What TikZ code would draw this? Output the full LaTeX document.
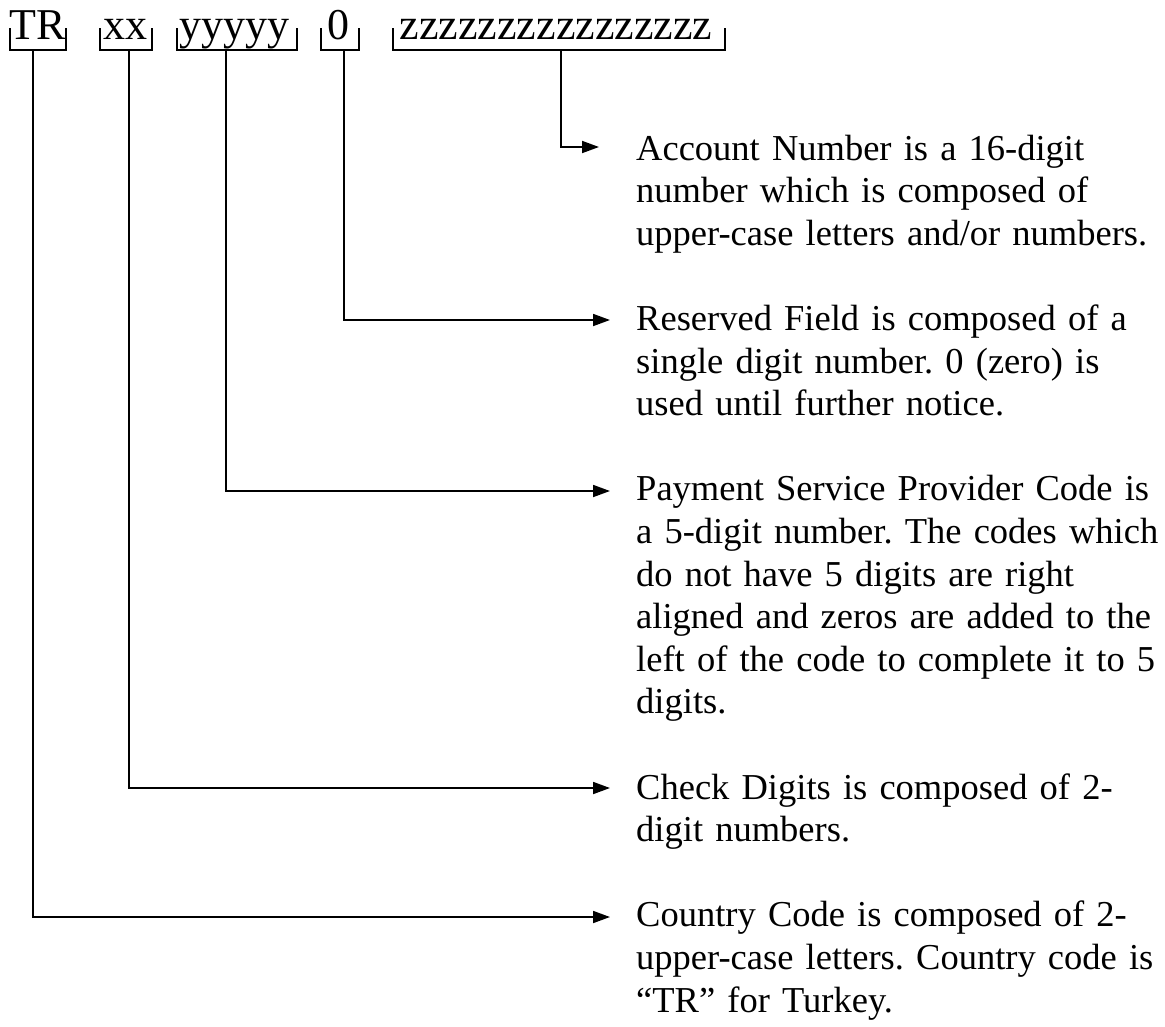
\documentclass[tikz,border=0pt]{standalone}
\usepackage{fontspec}
\setmainfont{Liberation Serif}
\usetikzlibrary{arrows.meta}
\frenchspacing
\begin{document}
\begin{tikzpicture}[x=1pt,y=-1pt,
  field/.style={font=\fontsize{44}{50}\selectfont, inner sep=0pt, anchor=base},
  desc/.style={font=\fontsize{36.5}{42.6}\selectfont\frenchspacing, inner sep=0pt, anchor=base west, text width=540pt, align=left},
  brk/.style={line width=1.8pt},
  conn/.style={line width=1.8pt, -{Triangle[length=17pt,width=12pt]}}]
\useasboundingbox (0,0) rectangle (1165,1026);

% top fields
\node[field] (tr)   at (38,39)    {TR};
\node[field] (xx)   at (125,39)   {xx};
\node[field] (yy)   at (234,39)   {yyyyy};
\node[field] (zero) at (338,39)   {0};
\node[field] (zz)   at (556,39)   {zzzzzzzzzzzzzzzz};

% brackets
\draw[brk] (10,28) -- (10,50) -- (66,50) -- (66,28);
\draw[brk] (100,28) -- (100,50) -- (152,50) -- (152,28);
\draw[brk] (177,28) -- (177,50) -- (297,50) -- (297,28);
\draw[brk] (321,28) -- (321,50) -- (359,50) -- (359,28);
\draw[brk] (393,28) -- (393,50) -- (725,50) -- (725,28);

\coordinate (trS)   at (33,50);
\coordinate (xxS)   at (129,50);
\coordinate (yyS)   at (226,50);
\coordinate (zeroS) at (344,50);
\coordinate (zzS)   at (561,50);

% descriptions
\node[desc] (acc) at (636,160)   {Account Number is a 16-digit\\number which is composed of\\upper-case letters and/or numbers.};
\node[desc] (res) at (636,330.4) {Reserved Field is composed of a\\single digit number. 0 (zero) is\\used until further notice.};
\node[desc] (psp) at (636,500.8) {Payment Service Provider Code is\\a 5-digit number. The codes which\\do not have 5 digits are right\\aligned and zeros are added to the\\left of the code to complete it to 5\\digits.};
\node[desc] (chk) at (636,799)   {Check Digits is composed of 2-\\digit numbers.};
\node[desc] (cty) at (636,926.8) {Country Code is composed of 2-\\upper-case letters. Country code is\\“TR” for Turkey.};

\coordinate (accA) at (599,147);
\coordinate (resA) at (610,320);
\coordinate (pspA) at (610,491);
\coordinate (chkA) at (610,788);
\coordinate (ctyA) at (610,917);

% connectors
\draw[conn] (zzS)   |- (accA);
\draw[conn] (zeroS) |- (resA);
\draw[conn] (yyS)   |- (pspA);
\draw[conn] (xxS)   |- (chkA);
\draw[conn] (trS)   |- (ctyA);
\end{tikzpicture}
\end{document}
